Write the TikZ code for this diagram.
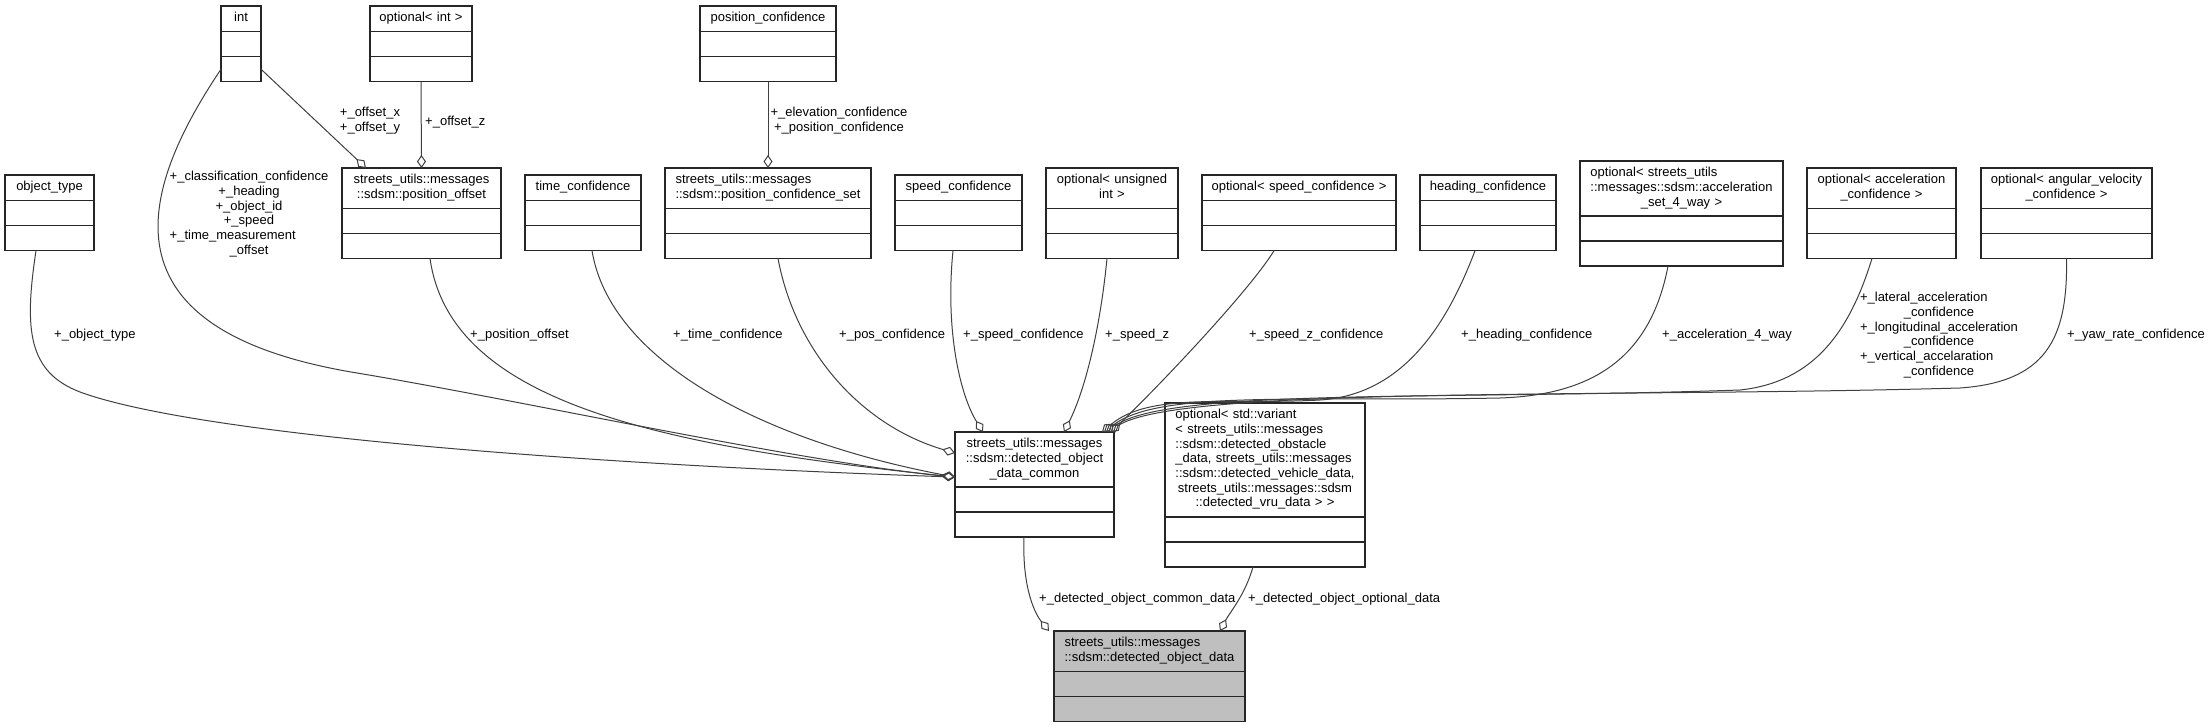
\documentclass[tikz,border=0pt]{standalone}
\usepackage{fontspec}
\setmainfont{Liberation Sans}
\usetikzlibrary{positioning,arrows.meta}

% class box: title part plus two empty compartments
\newcommand{\umlclass}[5][]{%
  \node[cls, #1, text width={#4pt-10pt}, anchor=north west] (#2) at (#3) {#5};
  \node[comp, #1, minimum width=#4pt, below=0pt of #2] (#2-a) {};
  \node[comp, #1, minimum width=#4pt, below=0pt of #2-a] (#2-b) {};
}
\newcommand{\ctrline}[1]{\multicolumn{1}{@{}c@{}}{#1}}

\tikzset{
  cls/.style={draw=black!85, line width=1.3pt, fill=white, outer sep=0pt, inner xsep=5pt, inner ysep=5.5pt,
    align=center, font=\fontsize{13}{14.7}\selectfont,
    execute at begin node=\noindent\strut, execute at end node=\strut},
  comp/.style={draw=black!85, line width=1.3pt, fill=white, outer sep=0pt, inner sep=0pt, minimum height=25pt},
  agg/.style={draw=black!75, line width=1pt, -{Diamond[open,length=13pt,width=9pt]}},
  lbl/.style={inner sep=0pt, font=\fontsize{13}{14.7}\selectfont},
  mlbl/.style={lbl, align=center, execute at begin node=\strut, execute at end node=\strut},
}

\begin{document}
\begin{tikzpicture}[x=1pt, y=-1pt]
    \path[fill=white, use as bounding box] (0,0) rectangle (2209,728);

    % member types
    \umlclass{objtype}{5,175}{89}{object\_type}
    \umlclass{int}{221,6}{40}{int}
    \umlclass{optint}{370,6}{102}{optional< int >}
    \umlclass{posoff}{342,168}{159}{streets\_utils::messages\\::sdsm::position\_offset}
    \umlclass{timeconf}{525,175}{116}{time\_confidence}
    \umlclass{posconf}{700,6}{136}{position\_confidence}
    \umlclass{posconfset}{665,168}{206}{\begin{tabular}{@{}l@{}}streets\_utils::messages\\::sdsm::position\_confidence\_set\end{tabular}}
    \umlclass{speedconf}{895,175}{127}{speed\_confidence}
    \umlclass{optuint}{1046,168}{132}{optional< unsigned\\int >}
    \umlclass{optspeedconf}{1202,175}{194}{optional< speed\_confidence >}
    \umlclass{headconf}{1420,175}{136}{heading\_confidence}
    \umlclass{optaccel}{1580,161}{203}{\begin{tabular}{@{}l@{}}optional< streets\_utils\\::messages::sdsm::acceleration\\\ctrline{\_set\_4\_way >}\end{tabular}}
    \umlclass{optaccconf}{1807,168}{149}{optional< acceleration\\\_confidence >}
    \umlclass{optangvel}{1981,168}{171}{optional< angular\_velocity\\\_confidence >}
    \umlclass{common}{955,432}{159}{streets\_utils::messages\\::sdsm::detected\_object\\\_data\_common}
    \umlclass{optvariant}{1165,403}{200}{\begin{tabular}{@{}l@{}}optional< std::variant\\< streets\_utils::messages\\::sdsm::detected\_obstacle\\\_data, streets\_utils::messages\\::sdsm::detected\_vehicle\_data,\\\ctrline{streets\_utils::messages::sdsm}\\\ctrline{::detected\_vru\_data > >}\end{tabular}}
    \umlclass[fill=black!25]{objdata}{1054,631}{191}{\begin{tabular}{@{}l@{}}streets\_utils::messages\\::sdsm::detected\_object\_data\end{tabular}}

    % aggregations into detected_object_data_common
    \draw[agg] ([xshift=-13.5pt]objtype-b.south) .. controls (24,330) and (28,372) .. (80,392)
        .. controls (200,436) and (600,465) .. ([yshift=-17.5pt]common.west);
    \draw[agg] (int-b.west) .. controls (140,190) and (95,330) .. (357,373)
        .. controls (514,399) and (800,462) .. ([yshift=-17.5pt]common.west);
    \draw[agg] ([xshift=8.5pt]posoff-b.south) .. controls (450,400) and (650,445) .. ([yshift=-17.5pt]common.west);
    \draw[agg] ([xshift=9pt]timeconf-b.south) .. controls (610,360) and (760,440) .. ([yshift=-17.5pt]common.west);
    \draw[agg] ([xshift=10pt]posconfset-b.south) .. controls (795,350) and (860,425) .. ([yshift=6.5pt]common.west);
    \draw[agg] ([xshift=-5.5pt]speedconf-b.south) .. controls (945,330) and (960,395) .. ([xshift=-51.5pt]common.north);
    \draw[agg] ([xshift=-5pt]optuint-b.south) .. controls (1100,330) and (1085,390) .. ([xshift=29.5pt]common.north);
    \draw[agg] ([xshift=-25pt]optspeedconf-b.south) .. controls (1250,290) and (1160,385) .. ([xshift=76.5pt]common.north);
    \draw[agg] ([xshift=-13pt]headconf-b.south) .. controls (1445,330) and (1400,395) .. (1320,400)
        .. controls (1230,405) and (1150,392) .. ([xshift=67.5pt]common.north);
    \draw[agg] ([xshift=-13.5pt]optaccel-b.south) .. controls (1650,360) and (1590,395) .. (1500,398)
        .. controls (1300,402) and (1160,390) .. ([xshift=69.5pt]common.north);
    \draw[agg] ([xshift=-9.5pt]optaccconf-b.south) .. controls (1850,330) and (1815,382) .. (1740,390)
        .. controls (1450,400) and (1170,388) .. ([xshift=71.5pt]common.north);
    \draw[agg] (optangvel-b.south) .. controls (2068,340) and (2045,382) .. (1960,388)
        .. controls (1600,398) and (1180,386) .. ([xshift=73.5pt]common.north);

    % aggregations inside member types
    \draw[agg] (int-b.east) -- ([xshift=-55.5pt]posoff.north);
    \draw[agg] (optint-b.south) -- (posoff.north);
    \draw[agg] (posconf-b.south) -- (posconfset.north);

    % aggregations into detected_object_data
    \draw[agg] ([xshift=-10.5pt]common-b.south) .. controls (1022,590) and (1036,615) .. ([xshift=-100.5pt]objdata.north);
    \draw[agg] ([xshift=-12pt]optvariant-b.south) .. controls (1245,595) and (1230,612) .. ([xshift=70.5pt]objdata.north);

    % member names
    \node[lbl, anchor=base west] (l-objtype) at (54,338) {+\_object\_type};
    \node[mlbl, anchor=north] (l-int) at (249,170.3) {\begin{tabular}{@{}l@{}}+\_classification\_confidence\\\ctrline{+\_heading}\\\ctrline{+\_object\_id}\\\ctrline{+\_speed}\\+\_time\_measurement\\\ctrline{\_offset}\end{tabular}};
    \node[mlbl, anchor=north] (l-offxy) at (370,107.3) {+\_offset\_x\\+\_offset\_y};
    \node[lbl, anchor=base west] (l-offz) at (425,125.6) {+\_offset\_z};
    \node[lbl, anchor=base west] (l-posoff) at (470,338) {+\_position\_offset};
    \node[lbl, anchor=base west] (l-timeconf) at (673,338) {+\_time\_confidence};
    \node[mlbl, anchor=north] (l-posconf) at (839,107.3) {+\_elevation\_confidence\\+\_position\_confidence};
    \node[lbl, anchor=base west] (l-posconfset) at (839,338) {+\_pos\_confidence};
    \node[lbl, anchor=base west] (l-speedconf) at (963,338) {+\_speed\_confidence};
    \node[lbl, anchor=base west] (l-optuint) at (1105,338) {+\_speed\_z};
    \node[lbl, anchor=base west] (l-optspeed) at (1249,338) {+\_speed\_z\_confidence};
    \node[lbl, anchor=base west] (l-headconf) at (1461,338) {+\_heading\_confidence};
    \node[lbl, anchor=base west] (l-optaccel) at (1662,338) {+\_acceleration\_4\_way};
    \node[mlbl, anchor=north] (l-optaccconf) at (1939,291.3) {\begin{tabular}{@{}l@{}}+\_lateral\_acceleration\\\ctrline{\_confidence}\\+\_longitudinal\_acceleration\\\ctrline{\_confidence}\\+\_vertical\_accelaration\\\ctrline{\_confidence}\end{tabular}};
    \node[lbl, anchor=base west] (l-optangvel) at (2067,338) {+\_yaw\_rate\_confidence};
    \node[lbl, anchor=base west] (l-common) at (1039,602.6) {+\_detected\_object\_common\_data};
    \node[lbl, anchor=base west] (l-optvariant) at (1248,602.6) {+\_detected\_object\_optional\_data};
\end{tikzpicture}
\end{document}
